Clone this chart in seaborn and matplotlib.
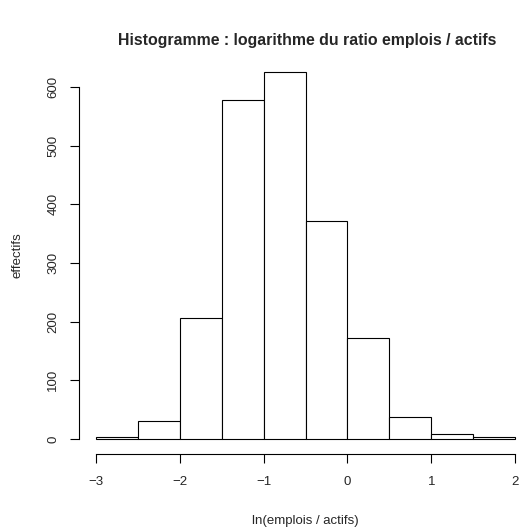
import numpy as np
import pandas as pd
import seaborn as sns
import matplotlib
matplotlib.use("Agg")
import matplotlib.pyplot as plt

bin_edges = [-3.0, -2.5, -2.0, -1.5, -1.0, -0.5, 0.0, 0.5, 1.0, 1.5, 2.0]
counts = [4, 30, 207, 578, 626, 371, 172, 37, 8, 4]
x_ticks = [-3, -2, -1, 0, 1, 2]
y_ticks = [0, 100, 200, 300, 400, 500, 600]
title = "Histogramme : logarithme du ratio emplois / actifs"
xlabel = "ln(emplois / actifs)"
ylabel = "effectifs"

sns.set_style("white")
plt.rcParams['font.family'] = ['Liberation Sans', 'DejaVu Sans']

centers = [(bin_edges[i] + bin_edges[i + 1]) / 2 for i in range(len(counts))]
df = pd.DataFrame({"x": centers, "w": counts})

fig = plt.figure(figsize=(5.25, 5.29), dpi=100)
ax = fig.add_axes([79 / 525, (529 - 453.7) / 529, (532 - 79) / 525, (453.7 - 57) / 529])
sns.histplot(data=df, x="x", weights="w", bins=bin_edges, ax=ax,
             color="white", edgecolor="black", linewidth=0.8, alpha=1)

xr = bin_edges[-1] - bin_edges[0]
ax.set_xlim(bin_edges[0] - 0.04 * xr, bin_edges[-1] + 0.04 * xr)
ym = max(counts)
ax.set_ylim(-0.04 * ym, ym * 1.04)

for s in ["top", "right"]:
    ax.spines[s].set_visible(False)
ax.spines["left"].set_bounds(y_ticks[0], y_ticks[-1])
ax.spines["bottom"].set_bounds(x_ticks[0], x_ticks[-1])
for s in ["left", "bottom"]:
    ax.spines[s].set_color("black")
    ax.spines[s].set_linewidth(0.8)

ax.set_xticks(x_ticks)
ax.set_xticklabels([str(t).replace("-", "\u2212") for t in x_ticks])
ax.set_yticks(y_ticks)
ax.set_yticklabels([str(t) for t in y_ticks], rotation=90, va="center")
ax.tick_params(axis="both", direction="out", length=6.2, width=0.8, color="black",
               labelsize=9.5, left=True, bottom=True)
ax.tick_params(axis="x", pad=10)
ax.tick_params(axis="y", pad=8)
ax.set_xlabel(xlabel, fontsize=9.5, labelpad=19)
ax.set_ylabel(ylabel, fontsize=9.5, labelpad=17)
fig.text(307 / 525, 1 - 40 / 529, title, ha="center", va="center",
         fontsize=11.4, fontweight="bold")
ax.grid(False)

fig.savefig("out.png", dpi=100)
